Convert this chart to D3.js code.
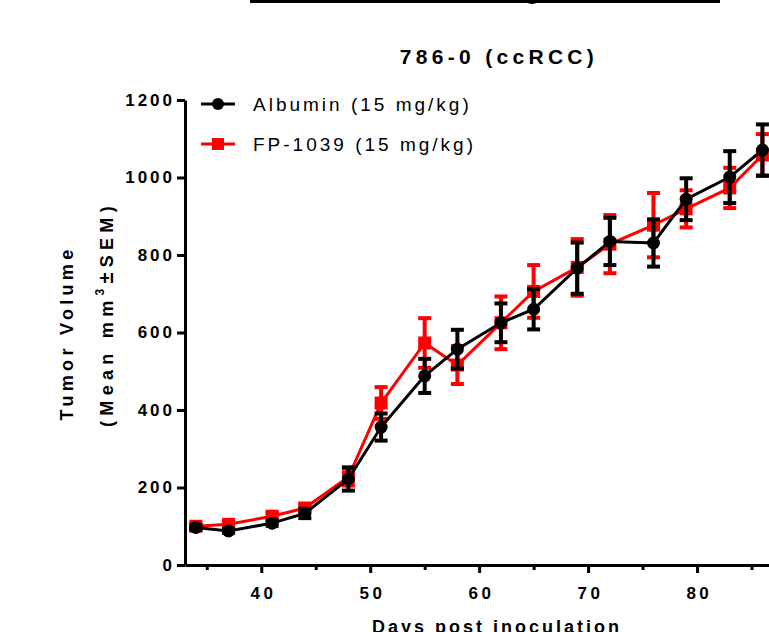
<!DOCTYPE html>
<html>
<head>
<meta charset="utf-8">
<script src="https://cdn.jsdelivr.net/npm/d3@7"></script>
<style>
  body { margin: 0; background: #fff; }
  svg { display: block; font-family: Arial, "Liberation Sans", sans-serif; }
</style>
</head>
<body>
<div id="chart"></div>
<script>
// days post inoculation
const days = [34, 37, 41, 44, 48, 51, 55, 58, 62, 65, 69, 72, 76, 79, 83, 86];
// Albumin (15 mg/kg)
const albuminMean = [97, 88, 108, 133, 222, 356, 488, 557, 625, 660, 766, 835, 831, 944, 1001, 1071];
const albuminSem = [6, 5, 7, 12, 30, 35, 44, 50, 50, 52, 66, 61, 61, 54, 67, 66];
// FP-1039 (15 mg/kg)
const fpMean = [100, 105, 126, 147, 227, 418, 573, 516, 625, 706, 768, 828, 877, 919, 973, 1058];
const fpSem = [6, 6, 8, 8, 22, 41, 64, 49, 68, 68, 73, 75, 83, 48, 52, 54];

const yTicks = [0, 200, 400, 600, 800, 1000, 1200];
const xTicks = [40, 50, 60, 70, 80];
const xMinorTicks = [35, 45, 55, 65, 75, 85];

const seriesNames = ["Albumin (15 mg/kg)", "FP-1039 (15 mg/kg)"];

const width = 769, height = 632;
const svg = d3.select("#chart").append("svg")
    .attr("width", width)
    .attr("height", height);

const x = d3.scaleLinear().domain([33, 90]).range([185, 806]);
const y = d3.scaleLinear().domain([0, 1200]).range([565, 100]);

// fragment of the panel above
const topPanel = svg.append("g").attr("stroke", "#000").attr("fill", "#000");
topPanel.append("line").attr("x1", 250).attr("x2", 720).attr("y1", 1.5).attr("y2", 1.5).attr("stroke-width", 3);
topPanel.append("line").attr("x1", 455).attr("x2", 455).attr("y1", -4).attr("y2", 2).attr("stroke-width", 3);
topPanel.append("circle").attr("cx", 532).attr("cy", -4).attr("r", 8).attr("stroke", "none");

// title
svg.append("text")
    .attr("x", 499).attr("y", 64)
    .attr("text-anchor", "middle")
    .attr("font-size", 21).attr("font-weight", "bold")
    .attr("letter-spacing", 4.3)
    .text("786-0 (ccRCC)");

// y axis
const yAxis = svg.append("g")
    .attr("transform", "translate(185,0)")
    .call(d3.axisLeft(y).tickValues(yTicks).tickFormat(d3.format("d"))
        .tickSize(8).tickSizeOuter(0).tickPadding(2));
yAxis.select(".domain").attr("stroke-width", 3);
yAxis.selectAll(".tick line").attr("stroke-width", 3);
yAxis.selectAll(".tick text")
    .attr("font-size", 17).attr("font-weight", "bold")
    .attr("letter-spacing", 3).attr("font-family", "Arial, 'Liberation Sans', sans-serif")
    .attr("fill", "#000");

// x axis
const xAxis = svg.append("g")
    .attr("transform", "translate(0,565)")
    .call(d3.axisBottom(x).tickValues(xTicks).tickSize(8).tickSizeOuter(0).tickPadding(14));
xAxis.select(".domain").attr("stroke-width", 3);
xAxis.selectAll(".tick line").attr("stroke-width", 3);
xAxis.selectAll(".tick text")
    .attr("font-size", 17).attr("font-weight", "bold")
    .attr("letter-spacing", 3.5).attr("dx", 1.8)
    .attr("font-family", "Arial, 'Liberation Sans', sans-serif")
    .attr("fill", "#000");

const xMinor = svg.append("g")
    .attr("transform", "translate(0,565)")
    .call(d3.axisBottom(x).tickValues(xMinorTicks).tickSize(5).tickSizeOuter(0).tickFormat(""));
xMinor.select(".domain").remove();
xMinor.selectAll(".tick line").attr("stroke-width", 3);

// axis titles
svg.append("text")
    .attr("x", 497).attr("y", 633)
    .attr("text-anchor", "middle")
    .attr("font-size", 18).attr("font-weight", "bold")
    .attr("letter-spacing", 3)
    .text("Days post inoculation");

svg.append("text")
    .attr("transform", "translate(73,333) rotate(-90)")
    .attr("text-anchor", "middle")
    .attr("font-size", 18).attr("font-weight", "bold")
    .attr("letter-spacing", 4.3)
    .text("Tumor Volume");

const yl2 = svg.append("text")
    .attr("transform", "translate(113,314) rotate(-90)")
    .attr("text-anchor", "middle")
    .attr("font-size", 18).attr("font-weight", "bold")
    .attr("letter-spacing", 5.3);
yl2.append("tspan").text("(Mean mm");
yl2.append("tspan").attr("dy", -9).attr("font-size", 12).text("3");
yl2.append("tspan").attr("dy", 9).attr("font-size", 20).text("±");
yl2.append("tspan").text("SEM)");

// series
function drawSeries(mean, sem, color, marker) {
    const data = days.map((d, i) => ({ day: d, mean: mean[i], sem: sem[i] }));
    const g = svg.append("g");
    const capW = 6.5;

    g.selectAll(".err")
        .data(data).enter().append("line")
        .attr("x1", d => x(d.day)).attr("x2", d => x(d.day))
        .attr("y1", d => y(d.mean - d.sem)).attr("y2", d => y(d.mean + d.sem))
        .attr("stroke", color).attr("stroke-width", 4);
    g.selectAll(".capTop")
        .data(data).enter().append("line")
        .attr("x1", d => x(d.day) - capW).attr("x2", d => x(d.day) + capW)
        .attr("y1", d => y(d.mean + d.sem)).attr("y2", d => y(d.mean + d.sem))
        .attr("stroke", color).attr("stroke-width", 4);
    g.selectAll(".capBot")
        .data(data).enter().append("line")
        .attr("x1", d => x(d.day) - capW).attr("x2", d => x(d.day) + capW)
        .attr("y1", d => y(d.mean - d.sem)).attr("y2", d => y(d.mean - d.sem))
        .attr("stroke", color).attr("stroke-width", 4);

    g.append("path")
        .datum(data)
        .attr("fill", "none")
        .attr("stroke", color)
        .attr("stroke-width", 3)
        .attr("d", d3.line().x(d => x(d.day)).y(d => y(d.mean)));

    if (marker === "circle") {
        g.selectAll(".pt")
            .data(data).enter().append("circle")
            .attr("cx", d => x(d.day)).attr("cy", d => y(d.mean))
            .attr("r", 6.5).attr("fill", color);
    } else {
        g.selectAll(".pt")
            .data(data).enter().append("rect")
            .attr("x", d => x(d.day) - 6.5).attr("y", d => y(d.mean) - 6.5)
            .attr("width", 13).attr("height", 13).attr("fill", color);
    }
}

drawSeries(fpMean, fpSem, "#ff0000", "square");
drawSeries(albuminMean, albuminSem, "#000000", "circle");

// legend
const legendItems = [
    { name: seriesNames[0], color: "#000000", marker: "circle", y: 104 },
    { name: seriesNames[1], color: "#ff0000", marker: "square", y: 144 }
];
const legend = svg.append("g");
legendItems.forEach(item => {
    legend.append("line")
        .attr("x1", 201).attr("x2", 235)
        .attr("y1", item.y).attr("y2", item.y)
        .attr("stroke", item.color).attr("stroke-width", 3);
    if (item.marker === "circle") {
        legend.append("circle").attr("cx", 218).attr("cy", item.y).attr("r", 6).attr("fill", item.color);
    } else {
        legend.append("rect").attr("x", 212).attr("y", item.y - 6).attr("width", 12).attr("height", 12).attr("fill", item.color);
    }
    legend.append("text")
        .attr("x", 253).attr("y", item.y + 7)
        .attr("font-size", 19)
        .attr("letter-spacing", 3)
        .text(item.name);
});
</script>
</body>
</html>
